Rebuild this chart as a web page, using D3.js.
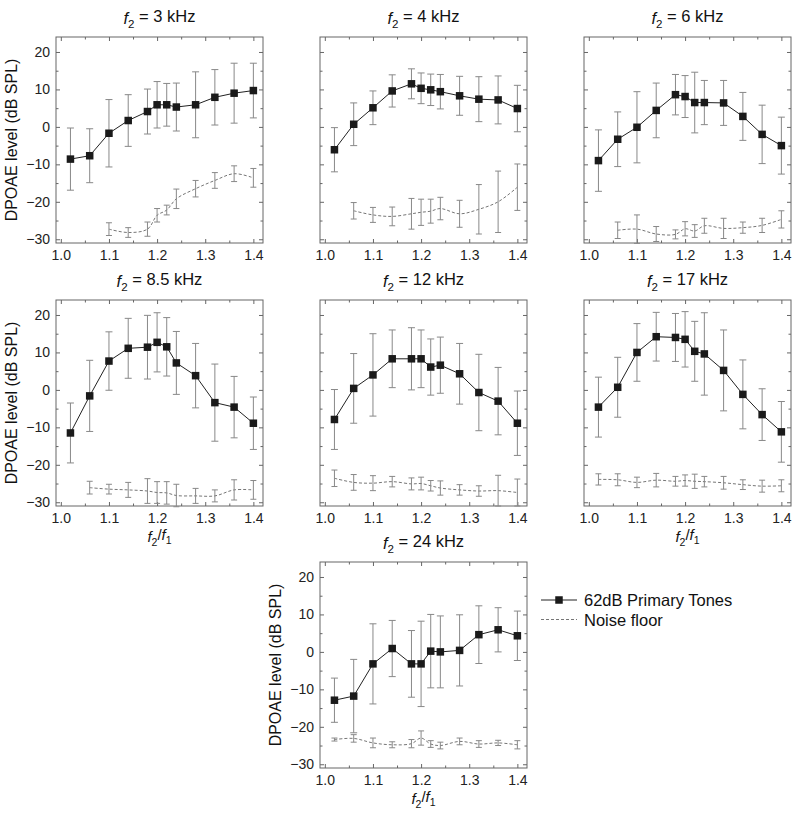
<!DOCTYPE html>
<html>
<head>
<meta charset="utf-8">
<script src="https://cdn.jsdelivr.net/npm/d3@7/dist/d3.min.js"></script>
<style>
  body { margin: 0; background: #fff; }
  svg { font-family: "Liberation Sans", Arial, sans-serif; }
</style>
</head>
<body>
<svg id="chart" width="800" height="826"></svg>
<script>
// f2/f1 ratios, shared by every panel
const ratios = [1.02, 1.06, 1.10, 1.14, 1.18, 1.20, 1.22, 1.24, 1.28, 1.32, 1.36, 1.40];

const freqLabels = ["3", "4", "6", "8.5", "12", "17", "24"];

// DPOAE level, 62 dB primaries (mean, SD)
const level3k  = [-8.6, -7.7, -1.7, 1.7, 4.1, 5.9, 5.9, 5.3, 5.9, 7.9, 9.0, 9.7];
const err3k    = [8.3, 7.2, 9.0, 6.9, 6.0, 6.2, 5.7, 6.4, 8.8, 7.4, 8.0, 7.3];
const level4k  = [-6.1, 0.7, 5.1, 9.6, 11.5, 10.3, 9.9, 9.4, 8.3, 7.4, 7.2, 4.9];
const err4k    = [5.9, 5.7, 4.5, 4.3, 4.0, 4.1, 4.2, 4.6, 5.2, 6.0, 6.4, 6.2];
const level6k  = [-9.0, -3.3, -0.1, 4.4, 8.6, 8.1, 6.5, 6.5, 6.4, 2.8, -2.0, -5.0];
const err6k    = [8.2, 7.3, 9.5, 7.3, 5.4, 5.6, 8.1, 5.9, 6.0, 6.4, 7.8, 7.6];
const level8k  = [-11.5, -1.6, 7.7, 11.1, 11.4, 12.7, 11.5, 7.2, 3.8, -3.4, -4.6, -8.9];
const err8k    = [8.0, 9.5, 7.8, 8.0, 8.5, 7.9, 7.8, 8.4, 8.6, 10.3, 8.2, 7.0];
const level12k = [-7.9, 0.4, 4.0, 8.3, 8.3, 8.3, 6.1, 6.6, 4.3, -0.7, -3.0, -8.9];
const err12k   = [8.0, 9.3, 11.0, 7.7, 8.3, 7.7, 7.5, 7.5, 8.1, 10.2, 9.0, 8.6];
const level17k = [-4.6, 0.7, 10.0, 14.2, 14.0, 13.5, 10.3, 9.6, 5.2, -1.2, -6.6, -11.2];
const err17k   = [8.0, 8.0, 7.7, 6.5, 6.4, 7.4, 8.0, 11.0, 10.8, 9.2, 6.9, 8.1];
const level24k = [-12.9, -11.8, -3.2, 0.9, -3.2, -3.2, 0.2, 0.0, 0.4, 4.6, 5.9, 4.3];
const err24k   = [5.9, 9.8, 10.7, 7.5, 8.9, 11.4, 9.8, 9.6, 9.5, 7.7, 5.9, 6.6];

// noise floor (mean, SD); null where not plotted
const noise3k     = [null, null, -27.3, -28.2, -27.3, -23.6, -22.2, -19.2, -16.5, -14.3, -12.5, -13.6];
const noiseErr3k  = [null, null, 1.7, 1.3, 1.9, 1.8, 1.3, 2.6, 2.2, 2.1, 2.1, 2.5];
const noise4k     = [null, -22.4, -23.5, -23.9, -23.2, -22.8, -22.5, -21.8, -23.2, -22.0, -20.0, -16.1];
const noiseErr4k  = [null, 2.2, 2.0, 2.5, 4.1, 3.5, 3.2, 3.0, 3.6, 6.6, 8.2, 6.2];
const noise6k     = [null, -27.6, -27.3, -28.6, -28.7, -27.2, -27.8, -26.4, -27.1, -26.9, -26.3, -24.7];
const noiseErr6k  = [null, 2.2, 3.8, 2.0, 1.2, 1.9, 1.7, 2.0, 2.7, 1.5, 1.9, 2.3];
const noise8k     = [null, -26.1, -26.5, -26.7, -27.0, -27.4, -27.5, -28.2, -28.3, -28.3, -26.7, -26.7];
const noiseErr8k  = [null, 1.7, 1.3, 2.0, 3.3, 2.9, 3.0, 3.0, 2.0, 1.6, 2.7, 2.5];
const noise12k    = [-23.6, -24.7, -24.9, -24.5, -25.1, -25.0, -25.6, -26.2, -26.7, -27.0, -26.9, -27.4];
const noiseErr12k = [2.2, 2.1, 2.0, 1.4, 1.6, 1.7, 1.4, 1.9, 1.4, 1.4, 4.1, 3.6];
const noise17k    = [-23.9, -24.0, -24.7, -24.1, -24.4, -24.2, -24.4, -24.5, -24.8, -25.3, -25.7, -25.6];
const noiseErr17k = [1.5, 1.6, 1.4, 1.8, 1.3, 1.5, 1.9, 1.4, 1.7, 1.3, 1.6, 1.6];
const noise24k    = [-23.4, -23.1, -24.3, -24.8, -24.5, -23.0, -24.6, -25.0, -23.9, -24.6, -24.3, -24.8];
const noiseErr24k = [0.4, 1.0, 1.3, 0.8, 1.1, 1.9, 0.9, 0.9, 0.9, 0.9, 0.7, 1.1];

const yTickLabels = [-30, -20, -10, 0, 10, 20];
const xTickLabels = [1.0, 1.1, 1.2, 1.3, 1.4];

const legendLabels = ["62dB Primary Tones", "Noise floor"];

const panels = [
  { f: freqLabels[0], level: level3k,  err: err3k,  noise: noise3k,  nerr: noiseErr3k,  col: 0, row: 0, yLab: true,  xLab: false },
  { f: freqLabels[1], level: level4k,  err: err4k,  noise: noise4k,  nerr: noiseErr4k,  col: 1, row: 0, yLab: false, xLab: false },
  { f: freqLabels[2], level: level6k,  err: err6k,  noise: noise6k,  nerr: noiseErr6k,  col: 2, row: 0, yLab: false, xLab: false },
  { f: freqLabels[3], level: level8k,  err: err8k,  noise: noise8k,  nerr: noiseErr8k,  col: 0, row: 1, yLab: true,  xLab: true },
  { f: freqLabels[4], level: level12k, err: err12k, noise: noise12k, nerr: noiseErr12k, col: 1, row: 1, yLab: false, xLab: false },
  { f: freqLabels[5], level: level17k, err: err17k, noise: noise17k, nerr: noiseErr17k, col: 2, row: 1, yLab: false, xLab: true },
  { f: freqLabels[6], level: level24k, err: err24k, noise: noise24k, nerr: noiseErr24k, col: 1, row: 2, yLab: true,  xLab: true }
];

const colLeft = [56, 320, 584];
const rowTop = [37, 300, 562];
const W = 207, H = 206;

const svg = d3.select("#chart");

const x = d3.scaleLinear().domain([0.99, 1.42]).range([0, W]);
const y = d3.scaleLinear().domain([-31, 24]).range([H, 0]);

const frameColor = "#666";
const barColor = "#888";

// italic f with subscript, used for titles and axis label
function fSub(sel, sub) {
  sel.append("tspan").attr("font-style", "italic").text("f");
  sel.append("tspan").attr("font-size", "0.7em").attr("dy", "0.35em").text(sub);
}

function drawBars(g, pts, cap) {
  const b = g.append("g").attr("stroke", barColor).attr("stroke-width", 1);
  pts.forEach(d => {
    const cx = x(d.r), y1 = y(d.v + d.e), y2 = y(d.v - d.e);
    b.append("line").attr("x1", cx).attr("x2", cx).attr("y1", y1).attr("y2", y2);
    b.append("line").attr("x1", cx - cap).attr("x2", cx + cap).attr("y1", y1).attr("y2", y1);
    b.append("line").attr("x1", cx - cap).attr("x2", cx + cap).attr("y1", y2).attr("y2", y2);
  });
}

panels.forEach(p => {
  const g = svg.append("g").attr("transform", `translate(${colLeft[p.col]},${rowTop[p.row]})`);

  // ticks inside, on all four sides
  const xMin = d3.range(1.05, 1.401, 0.1);
  const yMin = d3.range(-25, 21, 10);

  const bottom = d3.axisBottom(x).tickValues(xTickLabels).tickSize(-4).tickPadding(7).tickFormat(d3.format(".1f"));
  const top = d3.axisTop(x).tickValues(xTickLabels).tickSize(-4).tickFormat("");
  const left = d3.axisLeft(y).tickValues(yTickLabels).tickSize(-4).tickPadding(6).tickFormat(p.yLab ? d3.format("d") : "");
  const right = d3.axisRight(y).tickValues(yTickLabels).tickSize(-4).tickFormat("");

  const axes = [
    g.append("g").attr("transform", `translate(0,${H})`).call(bottom),
    g.append("g").call(top),
    g.append("g").call(left),
    g.append("g").attr("transform", `translate(${W},0)`).call(right),
    g.append("g").attr("transform", `translate(0,${H})`).call(d3.axisBottom(x).tickValues(xMin).tickSize(-2.5).tickFormat("")),
    g.append("g").call(d3.axisTop(x).tickValues(xMin).tickSize(-2.5).tickFormat("")),
    g.append("g").call(d3.axisLeft(y).tickValues(yMin).tickSize(-2.5).tickFormat("")),
    g.append("g").attr("transform", `translate(${W},0)`).call(d3.axisRight(y).tickValues(yMin).tickSize(-2.5).tickFormat(""))
  ];
  axes.forEach(a => {
    a.select(".domain").remove();
    a.selectAll("line").attr("stroke", frameColor);
    a.selectAll("text").attr("fill", "#222").attr("font-size", 14)
      .attr("font-family", "'Liberation Sans', Arial, sans-serif");
  });

  g.append("rect").attr("width", W).attr("height", H)
    .attr("fill", "none").attr("stroke", frameColor).attr("stroke-width", 1);

  // noise floor
  const nPts = ratios.map((r, i) => ({ r, v: p.noise[i], e: p.nerr[i] })).filter(d => d.v != null);
  g.append("path").datum(nPts)
    .attr("d", d3.line().x(d => x(d.r)).y(d => y(d.v)).curve(d3.curveCatmullRom))
    .attr("fill", "none").attr("stroke", "#666").attr("stroke-width", 0.9)
    .attr("stroke-dasharray", "3,2");
  drawBars(g, nPts, 3);

  // primary tones
  const pts = ratios.map((r, i) => ({ r, v: p.level[i], e: p.err[i] }));
  drawBars(g, pts, 3.5);
  g.append("path").datum(pts)
    .attr("d", d3.line().x(d => x(d.r)).y(d => y(d.v)))
    .attr("fill", "none").attr("stroke", "#222").attr("stroke-width", 1);
  g.selectAll("rect.pt").data(pts).join("rect").attr("class", "pt")
    .attr("x", d => x(d.r) - 3.75).attr("y", d => y(d.v) - 3.75)
    .attr("width", 7.5).attr("height", 7.5).attr("fill", "#1a1a1a");

  // title
  const t = g.append("text").attr("x", W / 2).attr("y", -13)
    .attr("text-anchor", "middle").attr("font-size", 16.5).attr("fill", "#111");
  fSub(t, "2");
  t.append("tspan").attr("dy", "-0.35em").text(` = ${p.f} kHz`);

  if (p.yLab) {
    g.append("text").attr("transform", `translate(-39,${H / 2}) rotate(-90)`)
      .attr("text-anchor", "middle").attr("font-size", 16).attr("fill", "#111")
      .text("DPOAE level (dB SPL)");
  }
  if (p.xLab) {
    const xl = g.append("text").attr("x", W / 2).attr("y", H + 36)
      .attr("text-anchor", "middle").attr("font-size", 15).attr("fill", "#111");
    fSub(xl, "2");
    xl.append("tspan").attr("dy", "-0.35em").text("/");
    fSub(xl, "1");
  }
});

// legend
const lg = svg.append("g").attr("transform", "translate(541,600)");
lg.append("line").attr("x1", 0).attr("x2", 36).attr("stroke", "#222").attr("stroke-width", 1);
lg.append("rect").attr("x", 14.25).attr("y", -3.75).attr("width", 7.5).attr("height", 7.5).attr("fill", "#1a1a1a");
lg.append("text").attr("x", 43).attr("y", 6).attr("font-size", 16.5).attr("fill", "#111").text(legendLabels[0]);
lg.append("line").attr("x1", 0).attr("x2", 36).attr("y1", 19.5).attr("y2", 19.5)
  .attr("stroke", "#666").attr("stroke-width", 0.9).attr("stroke-dasharray", "3,2");
lg.append("text").attr("x", 43).attr("y", 25.5).attr("font-size", 16.5).attr("fill", "#111").text(legendLabels[1]);
</script>
</body>
</html>
